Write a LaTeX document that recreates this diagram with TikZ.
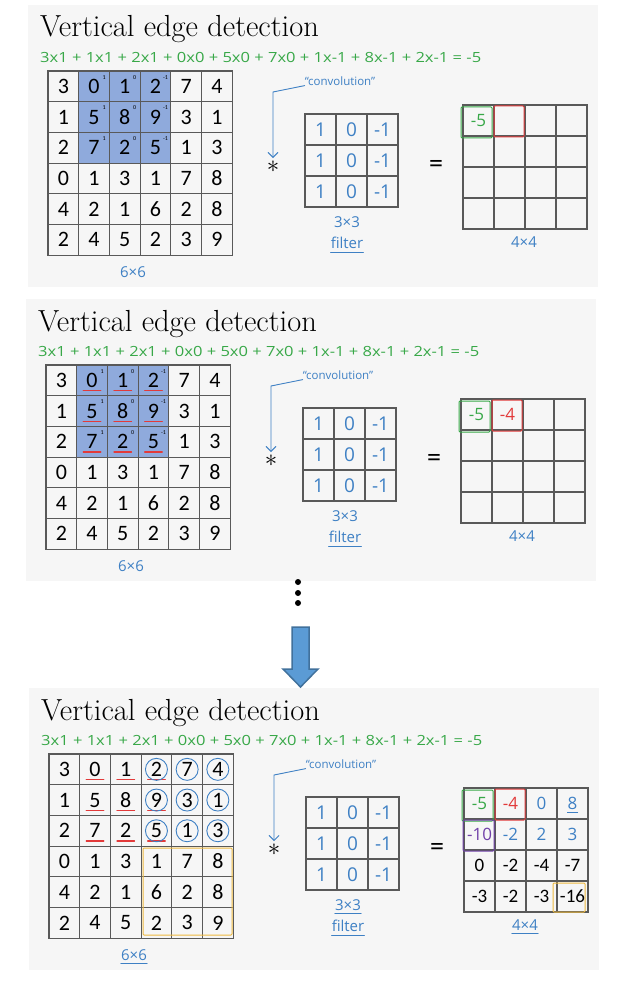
\documentclass[tikz,border=0pt]{standalone}
\usepackage{fontspec}
\setsansfont{Carlito}
\newfontfamily\handfont{Open Sans}
\usetikzlibrary{arrows.meta}

\definecolor{handblue}{RGB}{62,128,196}
\definecolor{handgreen}{RGB}{56,168,72}
\definecolor{handred}{RGB}{226,58,58}
\definecolor{handpurple}{RGB}{112,64,168}
\definecolor{handyellow}{RGB}{238,186,64}
\definecolor{cellshade}{RGB}{143,170,220}
\definecolor{slidebg}{RGB}{246,246,246}
\definecolor{arrowfill}{RGB}{91,155,213}
\definecolor{arrowedge}{RGB}{65,113,156}

\begin{document}
\begin{tikzpicture}[x=1pt,y=-1pt,
  every node/.style={inner sep=0pt},
  title/.style={anchor=base west, font=\fontsize{30.5}{30.5}\selectfont},
  eqn/.style={anchor=west, font=\handfont\fontsize{14}{14}\selectfont, text=handgreen},
  num/.style={font=\sffamily\fontsize{22}{22}\selectfont},
  outnum/.style={font=\sffamily\fontsize{19}{19}\selectfont},
  wnum/.style={font=\sffamily\fontsize{6}{6}\selectfont},
  hand/.style={font=\handfont\fontsize{15}{15}\selectfont, text=handblue},
  handbig/.style={font=\handfont\fontsize{19}{19}\selectfont, text=handblue},
  handline/.style={draw=handblue, line width=0.9pt, line cap=round},
  gridline/.style={draw=black!65, line width=1.1pt, line cap=rect},
  markbox/.style={line width=1pt, rounded corners=1pt},
  redline/.style={draw=handred, line width=1.2pt, line cap=round}]
\useasboundingbox (0,0) rectangle (622,981);
\fill[white] (0,0) rectangle (622,981);

% the three slides
\foreach \pn/\dx/\dy in {1/0/0,2/-2/294,3/1/683} {
\begin{scope}[shift={(\dx,\dy)}]
  \fill[slidebg] (28,5) rectangle (598,287);
  \node[title] (title\pn) at (40,37) {Vertical edge detection};
  \node[eqn] (eqn\pn) at (40,57) {\scalebox{1.18}[1]{3x1 + 1x1 + 2x1 + 0x0 + 5x0 + 7x0 + 1x-1 + 8x-1 + 2x-1 = -5}};

  % 6x6 image
  \begin{scope}[shift={(48,71)}]
    \ifnum\pn<3 \fill[cellshade] (30.7,0) rectangle (122.8,92.1); \fi
    \foreach \i in {0,...,6} {
      \draw[gridline] (\i*30.7,0) -- (\i*30.7,184.2);
      \draw[gridline] (0,\i*30.7) -- (184.2,\i*30.7);
    }
    \foreach \rowvals [count=\r] in {{3,0,1,2,7,4},{1,5,8,9,3,1},{2,7,2,5,1,3},{0,1,3,1,7,8},{4,2,1,6,2,8},{2,4,5,2,3,9}}
      \foreach \v [count=\c] in \rowvals
        \node[num] (img\pn-\r-\c) at ({(\c-0.5)*30.7},{(\r-0.5)*30.7}) {\v};
    \ifnum\pn<3
      \foreach \r in {1,2,3}
        \foreach \c/\w in {2/1,3/0,4/-1}
          \node[wnum] (w\pn-\r-\c) at ({(\c-0.5)*30.7+10},{(\r-0.5)*30.7-9}) {\w};
    \fi
    \ifnum\pn>1
      \foreach \r in {1,2,3}
        \foreach \c in {2,3,4}
          \draw[redline] ([xshift=-3pt,yshift=-3pt]img\pn-\r-\c.south west) -- ([xshift=3pt,yshift=-3pt]img\pn-\r-\c.south east);
    \fi
    \ifnum\pn=3
      \foreach \r in {1,2,3}
        \foreach \c in {4,5,6}
          \draw[handline] (img\pn-\r-\c) circle (11);
      \draw[markbox, draw=handyellow] (94,94) rectangle (183,181);
    \fi
    \node[hand] (isize\pn) at (85,201) {6×6};
    \ifnum\pn=3 \draw[handline] ([yshift=-3pt]isize\pn.south west) -- ([yshift=-3pt]isize\pn.south east); \fi
  \end{scope}

  % "convolution" pointer and operator signs
  \node[hand, font=\handfont\fontsize{11.5}{11.5}\selectfont] (conv\pn) at (340,81) {“convolution”};
  \node[font=\fontsize{24}{24}\selectfont] (star\pn) at (273,167) {$\ast$};
  \coordinate (bend\pn) at (273,92);
  \draw[handline, -{Straight Barb[length=5pt,width=10pt]}] (conv\pn.south west) -- (bend\pn) -- ([yshift=3pt]star\pn.north);
  \node[font=\sffamily\fontsize{28}{28}\selectfont] (eq\pn) at (436,166) {=};

  % 3x3 filter
  \begin{scope}[shift={(305,114)}]
    \foreach \i in {0,...,3} {
      \draw[gridline] (\i*31,0) -- (\i*31,93);
      \draw[gridline] (0,\i*31) -- (93,\i*31);
    }
    \foreach \r in {1,2,3}
      \foreach \c/\v in {1/1,2/0,3/-1}
        \node[handbig] (flt\pn-\r-\c) at ({(\c-0.5)*31},{(\r-0.5)*31}) {\v};
    \node[hand] (fsize\pn) at (42,108) {3×3};
    \node[hand] (fname\pn) at (42,129) {filter};
    \draw[handline] ([yshift=-3pt]fname\pn.south west) -- ([yshift=-3pt]fname\pn.south east);
    \ifnum\pn=3 \draw[handline] ([yshift=-3pt]fsize\pn.south west) -- ([yshift=-3pt]fsize\pn.south east); \fi
  \end{scope}

  % 4x4 output
  \begin{scope}[shift={(463,105)}]
    \foreach \i in {0,...,4} {
      \draw[gridline] (\i*31,0) -- (\i*31,124);
      \draw[gridline] (0,\i*31) -- (124,\i*31);
    }
    \node[hand, font=\handfont\fontsize{17}{17}\selectfont, text=handgreen] (out\pn-1-1) at (15.5,15.5) {-5};
    \draw[markbox, draw=handgreen] (-2,2) rectangle (29,33);
    \draw[markbox, draw=handred] (31,1) rectangle (61,32);
    \ifnum\pn>1
      \node[hand, font=\handfont\fontsize{17}{17}\selectfont, text=handred] (out\pn-1-2) at (46.5,15.5) {-4};
    \fi
    \ifnum\pn=3
      \foreach \r/\c/\v/\col in {1/3/0/handblue,1/4/8/handblue,2/1/-10/handpurple,2/2/-2/handblue,2/3/2/handblue,2/4/3/handblue}
        \node[hand, font=\handfont\fontsize{17}{17}\selectfont, text=\col] (out\pn-\r-\c) at ({(\c-0.5)*31},{(\r-0.5)*31}) {\v};
      \draw[handline] ([yshift=-3pt]out\pn-1-4.south west) -- ([yshift=-3pt]out\pn-1-4.south east);
      \draw[markbox, draw=handpurple] (-1,32) rectangle (30,63);
      \foreach \rowvals [count=\r from 3] in {{0,-2,-4,-7},{-3,-2,-3,-16}}
        \foreach \v [count=\c] in \rowvals
          \node[outnum] (out\pn-\r-\c) at ({(\c-0.5)*31},{(\r-0.5)*31}) {\v};
      \draw[markbox, draw=handyellow] (89,95) rectangle (121,124);
    \fi
    \node[hand] (osize\pn) at (61,137) {4×4};
    \ifnum\pn=3 \draw[handline] ([yshift=-3pt]osize\pn.south west) -- ([yshift=-3pt]osize\pn.south east); \fi
  \end{scope}
\end{scope}
}

% ellipsis and big arrow between slides
\foreach \y [count=\k] in {582,593,603}
  \fill (298,\y) circle (3);
\draw[fill=arrowfill, draw=arrowedge, line width=1.5pt, line join=miter]
  (292,627) -- (309,627) -- (309,669) -- (318,669) -- (300.5,687) -- (283,669) -- (292,669) -- cycle;
\end{tikzpicture}
\end{document}
